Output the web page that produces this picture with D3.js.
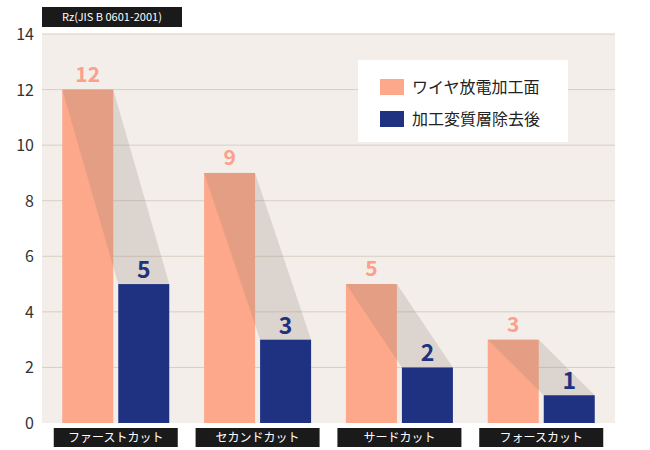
<!DOCTYPE html>
<html><head><meta charset="utf-8">
<script src="https://cdn.jsdelivr.net/npm/d3@7"></script>
<style>body{margin:0;background:#fff}text{font-family:"Noto Sans CJK JP","Noto Sans",sans-serif}</style>
</head><body><svg id="c" width="650" height="450"></svg>
<script>
var categories = ['ファーストカット', 'セカンドカット', 'サードカット', 'フォースカット'];
var wireValues = [12, 9, 5, 3];
var removedValues = [5, 3, 2, 1];
var seriesNames = ['ワイヤ放電加工面', '加工変質層除去後'];
var yTicks = [0, 2, 4, 6, 8, 10, 12, 14];

var svg = d3.select('#c');
var plotL = 42, plotR = 615, plotT = 34, plotB = 423;
var colors = ['#fda88a', '#1f3282'];
var labelColors = ['#fc9f8c', '#1f3282'];

var y = d3.scaleLinear().domain([0, 14]).range([plotB, plotT]);
var x = d3.scaleBand().domain(categories).range([plotL, plotR]).paddingInner(0).paddingOuter(0.02);
var bw = 51, gap = 5;

svg.append('rect').attr('x', plotL).attr('y', plotT).attr('width', plotR - plotL).attr('height', plotB - plotT).attr('fill', '#f3eee9');

svg.append('g').selectAll('line').data(yTicks.slice(1)).enter().append('line')
    .attr('x1', plotL).attr('x2', plotR).attr('y1', d => y(d)).attr('y2', d => y(d))
    .attr('stroke', '#d8cfc4').attr('stroke-width', 1);

svg.append('g').selectAll('text').data(yTicks).enter().append('text')
    .attr('x', 34).attr('y', d => y(d) + 6).attr('text-anchor', 'end')
    .attr('font-size', 16).attr('fill', '#333').text(d => d);

var x0 = function (c) { return x(c) + (x.bandwidth() - 2 * bw - gap) / 2; };

categories.forEach(function (c, i) {
    var sx = x0(c), nx = sx + bw + gap;
    svg.append('rect').attr('x', sx).attr('y', y(wireValues[i])).attr('width', bw)
        .attr('height', plotB - y(wireValues[i])).attr('fill', colors[0]);
    svg.append('rect').attr('x', nx).attr('y', y(removedValues[i])).attr('width', bw)
        .attr('height', plotB - y(removedValues[i])).attr('fill', colors[1]);
    // shadow
    svg.append('path')
        .attr('d', d3.line()([[sx, y(wireValues[i])], [sx + bw, y(wireValues[i])], [nx + bw, y(removedValues[i])], [nx, y(removedValues[i])]]))
        .attr('fill', 'rgb(140,125,115)').attr('opacity', 0.22);
    svg.append('text').attr('x', sx + bw / 2).attr('y', y(wireValues[i]) - 8).attr('text-anchor', 'middle')
        .attr('font-size', 21).attr('font-weight', 'bold').attr('fill', labelColors[0]).text(wireValues[i]);
    svg.append('text').attr('x', nx + bw / 2).attr('y', y(removedValues[i]) - 6).attr('text-anchor', 'middle')
        .attr('font-size', 23).attr('font-weight', 'bold').attr('fill', labelColors[1]).text(removedValues[i]);
    // category box
    var cx = sx + bw + gap / 2;
    svg.append('rect').attr('x', cx - 62).attr('y', 428).attr('width', 124).attr('height', 19).attr('fill', '#1a1a1a');
    svg.append('text').attr('x', cx).attr('y', 442).attr('text-anchor', 'middle')
        .attr('font-size', 12).attr('fill', '#fff').text(c);
});

svg.append('rect').attr('x', 42).attr('y', 7).attr('width', 140).attr('height', 20).attr('fill', '#1a1a1a');
svg.append('text').attr('x', 112).attr('y', 21).attr('text-anchor', 'middle')
    .attr('font-size', 11).attr('fill', '#fff').text('Rz(JIS B 0601-2001)');

var lg = svg.append('g').attr('transform', 'translate(358,60)');
lg.append('rect').attr('width', 210).attr('height', 82).attr('fill', '#fff');
seriesNames.forEach(function (n, i) {
    lg.append('rect').attr('x', 22).attr('y', 19 + i * 32).attr('width', 24).attr('height', 16).attr('fill', colors[i]);
    lg.append('text').attr('x', 54).attr('y', 33 + i * 32).attr('font-size', 16).attr('fill', '#222').text(n);
});
</script></body></html>
